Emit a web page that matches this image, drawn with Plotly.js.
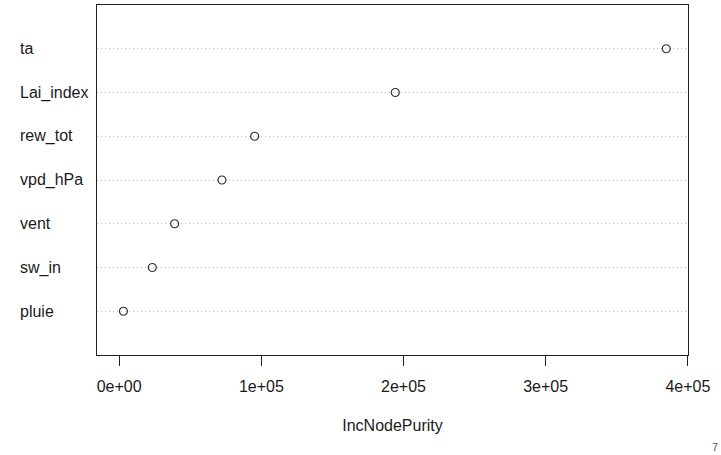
<!DOCTYPE html>
<html>
<head>
<meta charset="utf-8">
<script src="https://cdn.plot.ly/plotly-3.0.1.min.js"></script>
<style>html,body{margin:0;padding:0;background:#fff;}#chart{width:721px;height:455px;}</style>
</head>
<body>
<div id="chart"></div>
<script>
// Variables, bottom to top (as drawn by R's dotchart)
const variables = ["pluie", "sw_in", "vent", "vpd_hPa", "rew_tot", "Lai_index", "ta"];
const incNodePurity = [3000, 23300, 39000, 72300, 95300, 194200, 384800];
const xTickVals = [0, 100000, 200000, 300000, 400000];
const xTickText = ["0e+00", "1e+05", "2e+05", "3e+05", "4e+05"];
const xTitle = "IncNodePurity";
const cornerText = "7";

const positions = variables.map((_, i) => i + 1);
const font = {family: "Liberation Sans, Arial, Helvetica, sans-serif", size: 16, color: "#1a1a1a"};

const trace = {
  type: "scatter",
  mode: "markers",
  x: incNodePurity,
  y: positions,
  marker: {symbol: "circle-open", size: 8, color: "#333", line: {width: 1.2, color: "#333"}},
  hoverinfo: "x+text",
  text: variables
};

const annotations = variables.map((v, i) => ({
  xref: "paper", yref: "y", x: 0, y: positions[i],
  xanchor: "left", yanchor: "middle", xshift: -79,
  text: v, showarrow: false, font: font
}));
annotations.push({
  xref: "paper", yref: "paper", x: 1, y: 0,
  xanchor: "left", yanchor: "bottom", xshift: 22, yshift: -100,
  text: cornerText, showarrow: false, font: {family: font.family, size: 11, color: "#555"}
});

const layout = {
  width: 721, height: 455,
  margin: {l: 97, r: 33, t: 5, b: 100},
  paper_bgcolor: "#fff", plot_bgcolor: "#fff",
  showlegend: false,
  font: font,
  xaxis: {
    range: [-15600, 400100],
    tickvals: xTickVals, ticktext: xTickText,
    ticks: "outside", ticklen: 10, tickwidth: 1, tickcolor: "#222",
    ticklabelstandoff: 7,
    showline: true, mirror: true, linecolor: "#222", linewidth: 1,
    showgrid: false, zeroline: false,
    tickfont: font,
    title: {text: xTitle, font: font, standoff: 25}
  },
  yaxis: {
    range: [0, 8],
    tickvals: positions,
    showticklabels: false, ticks: "",
    showline: true, mirror: true, linecolor: "#222", linewidth: 1,
    showgrid: true, gridcolor: "#bdbdbd", griddash: "1px,3px", gridwidth: 1,
    zeroline: false
  },
  annotations: annotations
};

Plotly.newPlot("chart", [trace], layout, {displayModeBar: false, staticPlot: true});
</script>
</body>
</html>
